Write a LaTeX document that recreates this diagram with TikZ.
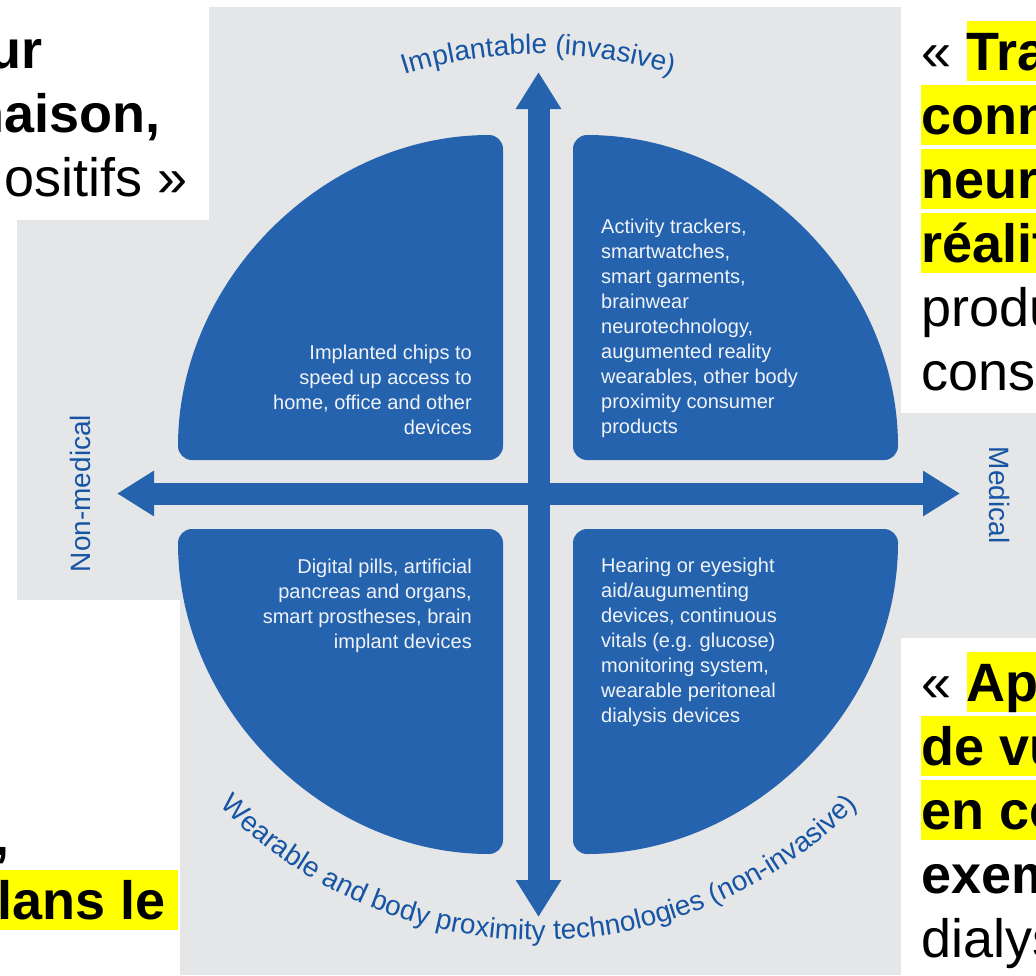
\documentclass[tikz,border=0pt]{standalone}
\usepackage{fontspec}
\setmainfont{Liberation Sans}
\usetikzlibrary{arrows.meta,decorations.text,positioning}

\definecolor{bggray}{RGB}{229,230,232}
\definecolor{quadblue}{RGB}{37,99,174}
\definecolor{labelblue}{RGB}{22,84,164}
\definecolor{quadtext}{RGB}{240,243,248}
\definecolor{hlyellow}{RGB}{255,255,0}

\tikzset{
  quadrant/.style={fill=quadblue, rounded corners=14pt},
  axis arrow/.style={draw=quadblue, line width=22pt,
    {Triangle[width=43pt,length=37pt]}-{Triangle[width=43pt,length=37pt]}},
  quad text/.style={text=quadtext, inner sep=0pt, font=\fontsize{20}{25}\selectfont},
  axis label/.style={text=labelblue, inner sep=0pt, font=\fontsize{28}{28}\selectfont},
  slide text/.style={inner sep=0pt, anchor=base west, font=\fontsize{54}{64}\selectfont},
  slide bold/.style={slide text, font=\fontsize{54}{64}\selectfont\bfseries},
  marked/.style={slide bold, fill=hlyellow, text height=49pt, text depth=11pt},
}

\begin{document}
\begin{tikzpicture}[x=1pt, y=-1pt]
\useasboundingbox (0,0) rectangle (1036,975);
\clip (0,0) rectangle (1036,975);

% slide background
\fill[white] (0,0) rectangle (1036,975);
\fill[bggray] (17,7) rectangle (1036,975);
\fill[white] (0,0) rectangle (209,220);
\fill[white] (901,0) rectangle (1036,413);
\fill[white] (901,638) rectangle (1036,975);
\fill[white] (0,600) rectangle (180,975);

% quadrants
\foreach \cx/\cy/\sy/\sa/\ea in {503/460/-1/-90/-180, 573/460/-1/-90/0,
                                 503/529/1/90/180, 573/529/1/90/0}
  \fill[quadrant] (\cx,\cy) -- ++(0,\sy*325)
    arc[start angle=\sa, end angle=\ea, radius=325] -- cycle;

% axes
\coordinate (axis-n) at (538.5,72);
\coordinate (axis-s) at (538.5,917);
\coordinate (axis-w) at (117,493.5);
\coordinate (axis-e) at (960,493.5);
\draw[axis arrow] (axis-s) -- (axis-n);
\draw[axis arrow] (axis-w) -- (axis-e);

% quadrant texts
\node[quad text, align=right, anchor=north east] (text-nw) at (472,345)
  {Implanted chips to\\speed up access to\\home, office and other\\devices};
\node[quad text, align=left, anchor=north west] (text-ne) at (601,218.5)
  {Activity trackers,\\smartwatches,\\smart garments,\\brainwear\\neurotechnology,\\augumented reality\\wearables, other body\\proximity consumer\\products};
\node[quad text, align=right, anchor=north east] (text-sw) at (472,558.5)
  {Digital pills, artificial\\pancreas and organs,\\smart prostheses, brain\\implant devices};
\node[quad text, align=left, anchor=north west] (text-se) at (601,557.5)
  {Hearing or eyesight\\aid/augumenting\\devices, continuous\\vitals (e.g. glucose)\\monitoring system,\\wearable peritoneal\\dialysis devices};

% axis labels
\node[axis label, rotate=90] (label-w) at (80,493.5) {Non-medical};
\node[axis label, rotate=-90] (label-e) at (999,495) {Medical};
\path[decorate, decoration={text along path, text align=center, text color=labelblue,
    text={|\fontsize{28}{28}\selectfont|Implantable (invasive)}}]
  (538.5,494) ++(-150:440) arc[start angle=-150, end angle=-30, radius=440];
\path[decorate, decoration={text along path, text align=center, text color=labelblue,
    text={|\fontsize{28}{28}\selectfont|Wearable and body proximity technologies (non-invasive)}}]
  (538.5,494) ++(150:446) arc[start angle=150, end angle=30, radius=446];

% slide text, top left
\node[slide bold, anchor=base east] (tl-1) at (43,68) {ur};
\node[slide bold, anchor=base east] (tl-2) at (161,132) {naison,};
\node[slide text, anchor=base east] (tl-3) at (188,196) {ositifs »};

% slide text, top right
\node[slide text] (tr-1) at (921,70) {«\kern15pt};
\node[marked] (tr-1b) at (tr-1.base east) {Tra};
\foreach \t/\y [count=\i from 2] in {conn/134, neur/198, réalit/262}
  \node[marked] (tr-\i) at (921,\y) {\t};
\node[slide text] (tr-5) at (921,326) {produ};
\node[slide text] (tr-6) at (921,390) {cons};

% slide text, bottom right
\node[slide text] (br-1) at (921,701) {«\kern15pt};
\node[marked] (br-1b) at (br-1.base east) {Ap};
\node[marked] (br-2) at (921,765) {de vu};
\node[marked] (br-3) at (921,829) {en co};
\node[slide bold] (br-4) at (921,893) {exem};
\node[slide text] (br-5) at (921,957) {dialys};

% slide text, bottom left
\node[slide bold, anchor=base east] (bl-1) at (10,855) {,};
\node[marked] (bl-2) at (-3,919) {lans le\kern13pt};

\end{tikzpicture}
\end{document}
